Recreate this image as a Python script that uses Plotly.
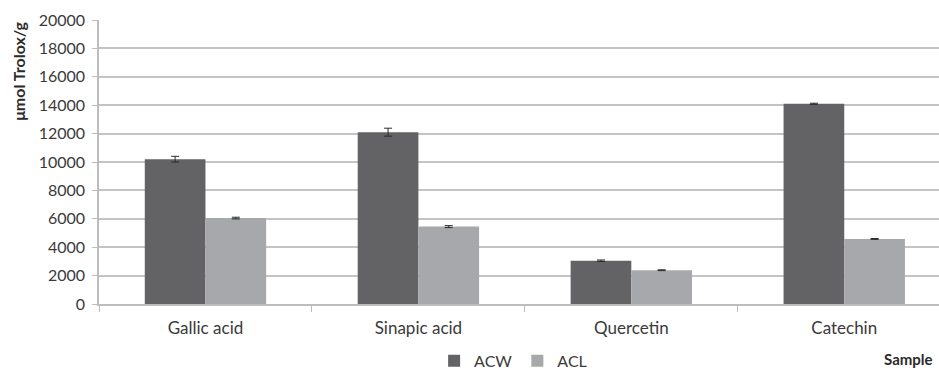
import plotly.graph_objects as go

samples = ["Gallic acid", "Sinapic acid", "Quercetin", "Catechin"]
acw = [10200, 12100, 3050, 14100]
acw_err = [200, 280, 50, 40]
acl = [6050, 5450, 2380, 4580]
acl_err = [60, 70, 30, 30]
y_ticks = [0, 2000, 4000, 6000, 8000, 10000, 12000, 14000, 16000, 18000, 20000]

font_family = "Lato, Open Sans, sans-serif"

fig = go.Figure()
fig.add_trace(go.Bar(
    name="ACW", x=samples, y=acw,
    marker=dict(color="#636365", line=dict(width=0)),
    error_y=dict(type="data", array=acw_err, color="#2a2a2a", thickness=1, width=4),
))
fig.add_trace(go.Bar(
    name="ACL", x=samples, y=acl,
    marker=dict(color="#a7a8ab", line=dict(width=0)),
    error_y=dict(type="data", array=acl_err, color="#2a2a2a", thickness=1, width=4),
))

fig.update_layout(
    width=939, height=371,
    margin=dict(l=99, r=0, t=20, b=67, autoexpand=False),
    paper_bgcolor="white", plot_bgcolor="white",
    barmode="group", bargap=0.43, bargroupgap=0,
    font=dict(family=font_family, size=16, color="#3a3a3a"),
    showlegend=True,
    legend=dict(orientation="h", x=0.493, y=-0.2, xanchor="center", yanchor="middle",
                font=dict(size=16, color="#3a3a3a"), itemwidth=30, traceorder="normal"),
    xaxis=dict(
        range=[-0.5, 3.445],
        showgrid=False, showline=True, linecolor="#bdbdbd", linewidth=1.5,
        ticks="outside", tickson="boundaries", ticklen=6, tickcolor="#bdbdbd",
        tickfont=dict(size=17, color="#3a3a3a"), ticklabelstandoff=8,
    ),
    yaxis=dict(
        range=[0, 20000], tickvals=y_ticks, tickformat="d",
        showgrid=True, gridcolor="#c4c4c4", gridwidth=1.8,
        showline=True, linecolor="#bdbdbd", linewidth=1.5,
        ticks="outside", tickfont=dict(size=16, color="#3a3a3a"),
        ticklen=5, tickcolor="#bdbdbd", ticklabelstandoff=4,
        zeroline=False,
    ),
    annotations=[
        dict(text="<b>μmol Trolox/g</b>", xref="paper", yref="paper",
             x=-0.096, y=1.0, xanchor="center", yanchor="top", textangle=-90,
             showarrow=False, font=dict(size=16, color="#2a2a2a")),
        dict(text="<b>Sample</b>", xref="paper", yref="paper",
             x=0.995, y=-0.195, xanchor="right", yanchor="middle",
             showarrow=False, font=dict(size=15, color="#2a2a2a")),
    ],
)

fig.write_html("out.html")
